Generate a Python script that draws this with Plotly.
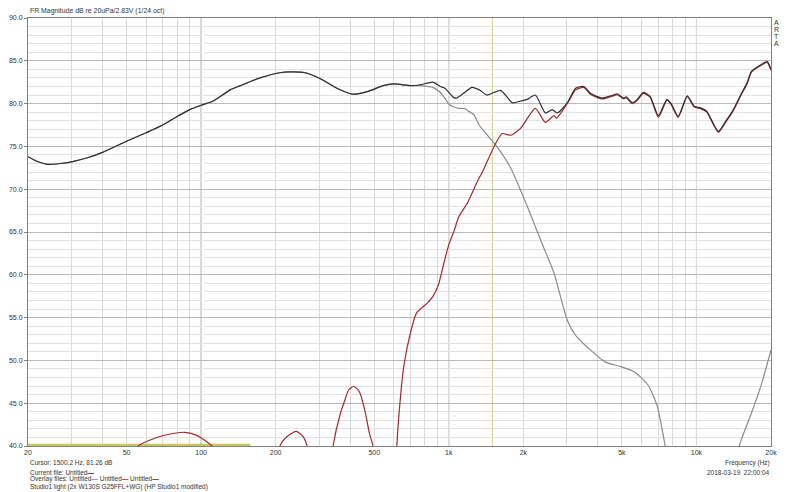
import plotly.graph_objects as go

# ---------------- data ----------------
total_freq = [20, 22, 24, 27, 30, 35, 40, 50, 60, 70, 80, 90, 100, 112, 131, 144, 173, 208, 228, 263,
              303, 353, 410, 468, 544, 600, 700, 768, 862, 925, 965, 1048, 1077, 1147, 1240, 1330,
              1426, 1618, 1806, 1950, 2074, 2236, 2456, 2615, 2744, 3009, 3249, 3508, 3730, 4148,
              4615, 4786, 5080, 5200, 5505, 5750, 6100, 6500, 7020, 7600, 7900, 8440, 9180, 9800,
              10400, 11000, 12260, 13100, 14100, 15200, 16000, 16700, 18200, 19300, 20000]
total_db = [73.8, 73.2, 72.9, 73.0, 73.2, 73.7, 74.3, 75.6, 76.6, 77.5, 78.5, 79.3, 79.8, 80.3, 81.6,
            82.1, 83.0, 83.6, 83.7, 83.6, 82.9, 81.8, 81.1, 81.4, 82.1, 82.3, 82.1, 82.2, 82.5, 82.0,
            81.8, 80.7, 80.65, 81.2, 81.9, 81.6, 81.0, 81.55, 80.1, 80.3, 80.5, 81.0, 78.9, 79.3,
            78.9, 80.1, 81.8, 82.0, 81.2, 80.65, 81.0, 81.15, 80.65, 80.8, 80.1, 80.45, 81.3, 80.85,
            78.6, 80.5, 80.0, 78.5, 80.9, 79.7, 79.5, 79.1, 76.75, 77.9, 79.3, 81.2, 82.4, 83.8,
            84.55, 84.9, 84.0]

woofer_freq = [20, 22, 24, 27, 30, 35, 40, 50, 60, 70, 80, 90, 100, 112, 131, 144, 173, 208, 228, 263,
               303, 353, 410, 468, 544, 600, 700, 768, 820, 862, 925, 965, 1005, 1048, 1100, 1168,
               1202, 1263, 1326, 1403, 1543, 1776, 2074, 2346, 2660, 3009, 3258, 3738, 4292, 4927,
               5657, 6385, 6940, 7480, 7800, 10000, 14500, 15200, 16500, 18200, 20000]
woofer_db = [73.8, 73.2, 72.9, 73.0, 73.2, 73.7, 74.3, 75.6, 76.6, 77.5, 78.5, 79.3, 79.8, 80.3, 81.6,
             82.1, 83.0, 83.6, 83.7, 83.6, 82.9, 81.8, 81.1, 81.4, 82.1, 82.3, 82.1, 82.1, 82.0, 81.9,
             81.3, 80.6, 79.9, 79.6, 79.45, 79.4, 79.1, 78.7, 77.5, 76.6, 75.2, 72.5, 68.0, 64.1,
             60.2, 54.7, 52.9, 51.2, 49.8, 49.3, 48.6, 47.1, 44.7, 40.0, 37.0, None, 39.0, 40.8,
             43.5, 47.0, 51.2]

tweeter_freq = [52, 55.8, 65, 75, 86, 95, 103, 110.6, 115, 130,
                205, 208, 220, 242, 258, 268, 272, 300,
                330, 341, 365, 381, 395, 412, 426, 438, 461, 478, 494, 500, 560,
                612, 617, 635, 658, 700, 740, 819, 862, 910, 960, 1005, 1048, 1099, 1190, 1300,
                1382, 1543, 1642, 1776, 1948, 2236, 2456, 2660, 2722, 3053, 3249, 3508, 3730,
                4148, 4615, 4786, 5080, 5200, 5505, 5750, 6100, 6500, 7020, 7600, 7900, 8440,
                9180, 9800, 10400, 11000, 12260, 13100, 14100, 15200, 16000, 16700, 18200,
                19300, 20000]
tweeter_db = [38.5, 40.0, 40.9, 41.4, 41.6, 41.3, 40.7, 40.0, 39.0, None,
              39.0, 40.0, 41.0, 41.7, 41.1, 40.0, 39.0, None,
              36.0, 40.0, 43.8, 45.4, 46.6, 46.95, 46.7, 46.2, 43.8, 41.5, 40.0, 38.0, None,
              36.0, 40.0, 45.0, 49.3, 53.2, 55.5, 56.7, 57.45, 58.9, 61.6, 63.7, 65.05, 66.8,
              68.4, 70.8, 72.3, 75.3, 76.5, 76.3, 77.1, 79.45, 77.8, 78.6, 78.3, 80.3, 81.6,
              81.9, 81.1, 80.55, 80.9, 81.05, 80.55, 80.7, 80.0, 80.35, 81.2, 80.75, 78.4, 80.4,
              79.9, 78.4, 80.8, 79.6, 79.4, 79.0, 76.65, 77.8, 79.2, 81.1, 82.3, 83.7, 84.45,
              84.8, 83.9]

olive_freq = [20, 158]
olive_db = [40.12, 40.12]

cursor_freq = 1500.2

x_tick_vals = [20, 50, 100, 200, 500, 1000, 2000, 5000, 10000, 20000]
x_tick_text = ["20", "50", "100", "200", "500", "1k", "2k", "5k", "10k", "20k"]
x_grid_vals = [20, 30, 40, 50, 60, 70, 80, 90, 100, 200, 300, 400, 500, 600, 700, 800, 900,
               1000, 2000, 3000, 4000, 5000, 6000, 7000, 8000, 9000, 10000, 20000]
x_decades = [100, 1000, 10000]

# ---------------- figure ----------------
# The page body has an 8px margin, so the figure is drawn 8px in from the window edge.
OFF = 8
W, H = 800 - OFF, 492 - OFF
PL, PR, PT, PB = 28, 771, 18, 446          # plot area in window pixels
L, T = PL - OFF, PT - OFF
R = W - (PR - OFF)
B = H - (PB - OFF)
FONT = "Liberation Sans"
TXT = "#333333"

fig = go.Figure()
fig.add_trace(go.Scatter(x=olive_freq, y=olive_db, mode="lines",
                         line=dict(color="#c9c75a", width=2.2), hoverinfo="skip"))
fig.add_trace(go.Scatter(x=woofer_freq, y=woofer_db, mode="lines", connectgaps=False,
                         line=dict(color="#8a8a8a", width=1.2, shape="spline", smoothing=0.6)))
fig.add_trace(go.Scatter(x=tweeter_freq, y=tweeter_db, mode="lines", connectgaps=False,
                         line=dict(color="#a8282a", width=1.2, shape="spline", smoothing=0.6)))
fig.add_trace(go.Scatter(x=total_freq, y=total_db, mode="lines",
                         line=dict(color="#303030", width=1.2, shape="spline", smoothing=0.6)))

shapes = []
for f in x_decades:
    shapes.append(dict(type="line", xref="x", yref="paper", x0=f, x1=f, y0=0, y1=1,
                       line=dict(color="#9a9a9a", width=1), layer="below"))
shapes.append(dict(type="line", xref="x", yref="paper", x0=cursor_freq, x1=cursor_freq, y0=0, y1=1,
                   line=dict(color="#cfcf80", width=1), layer="below"))

def px(x):
    return (x - PL) / (PR - PL)

def py(y):
    return (PB - y) / (PB - PT)

ann = []
def text(x, y, s, anchor="left", size=7.0):
    ann.append(dict(x=px(x), y=py(y), xref="paper", yref="paper", text=s, showarrow=False,
                    xanchor=anchor, yanchor="middle", font=dict(family=FONT, size=size, color=TXT)))

text(28, 11, "FR Magnitude dB re 20uPa/2.83V (1/24 oct)", size=6.9)
for i, ch in enumerate("ARTA"):
    text(777, 22.5 + 7 * i, ch, anchor="center", size=7)
text(28, 462.5, "Cursor: 1500.2 Hz, 81.26 dB", size=6.5)
text(28, 472, "Current file: Untitled<span style='color:#222222'><b>—</b></span>", size=6.5)
text(28, 479.5, "Overlay files: Untitled<span style='color:#888888'><b>—</b></span> Untitled"
                "<span style='color:#a8282a'><b>—</b></span> Untitled<span style='color:#333333'><b>—</b></span>", size=6.5)
text(28, 486.5, "Studio1 light (2x W130S G25FFL+WG) (HP Studio1 modified)", size=6.5)
text(772, 462.5, "Frequency (Hz)", anchor="right", size=6.5)
text(772, 472, "2018-03-19  22:00:04", anchor="right", size=6.5)

fig.update_layout(
    width=W, height=H, margin=dict(l=L, r=R, t=T, b=B, autoexpand=False),
    paper_bgcolor="white", plot_bgcolor="white", showlegend=False,
    font=dict(family=FONT, size=7, color=TXT),
    shapes=shapes, annotations=ann,
    xaxis=dict(type="log", range=[1.30103, 4.30103], tickmode="array", tickvals=x_tick_vals,
               ticktext=x_tick_text, showgrid=False, ticks="", zeroline=False, automargin=False,
               showline=True, mirror=True, linecolor="#808080", linewidth=1,
               tickfont=dict(family=FONT, size=7, color=TXT),
               minor=dict(tickmode="array", tickvals=x_grid_vals, showgrid=True,
                          gridcolor="#dadada", gridwidth=1, ticks="")),
    yaxis=dict(range=[40, 90], tickmode="linear", tick0=40, dtick=5, tickformat=".1f",
               showgrid=True, gridcolor="#b8b8b8", gridwidth=1, zeroline=False, automargin=False,
               ticks="outside", ticklen=3, tickcolor="#808080",
               showline=True, mirror=True, linecolor="#808080", linewidth=1,
               tickfont=dict(family=FONT, size=7, color=TXT),
               minor=dict(dtick=1, showgrid=True, gridcolor="#e3e3e3", gridwidth=1)),
)

fig.write_html("out.html")
